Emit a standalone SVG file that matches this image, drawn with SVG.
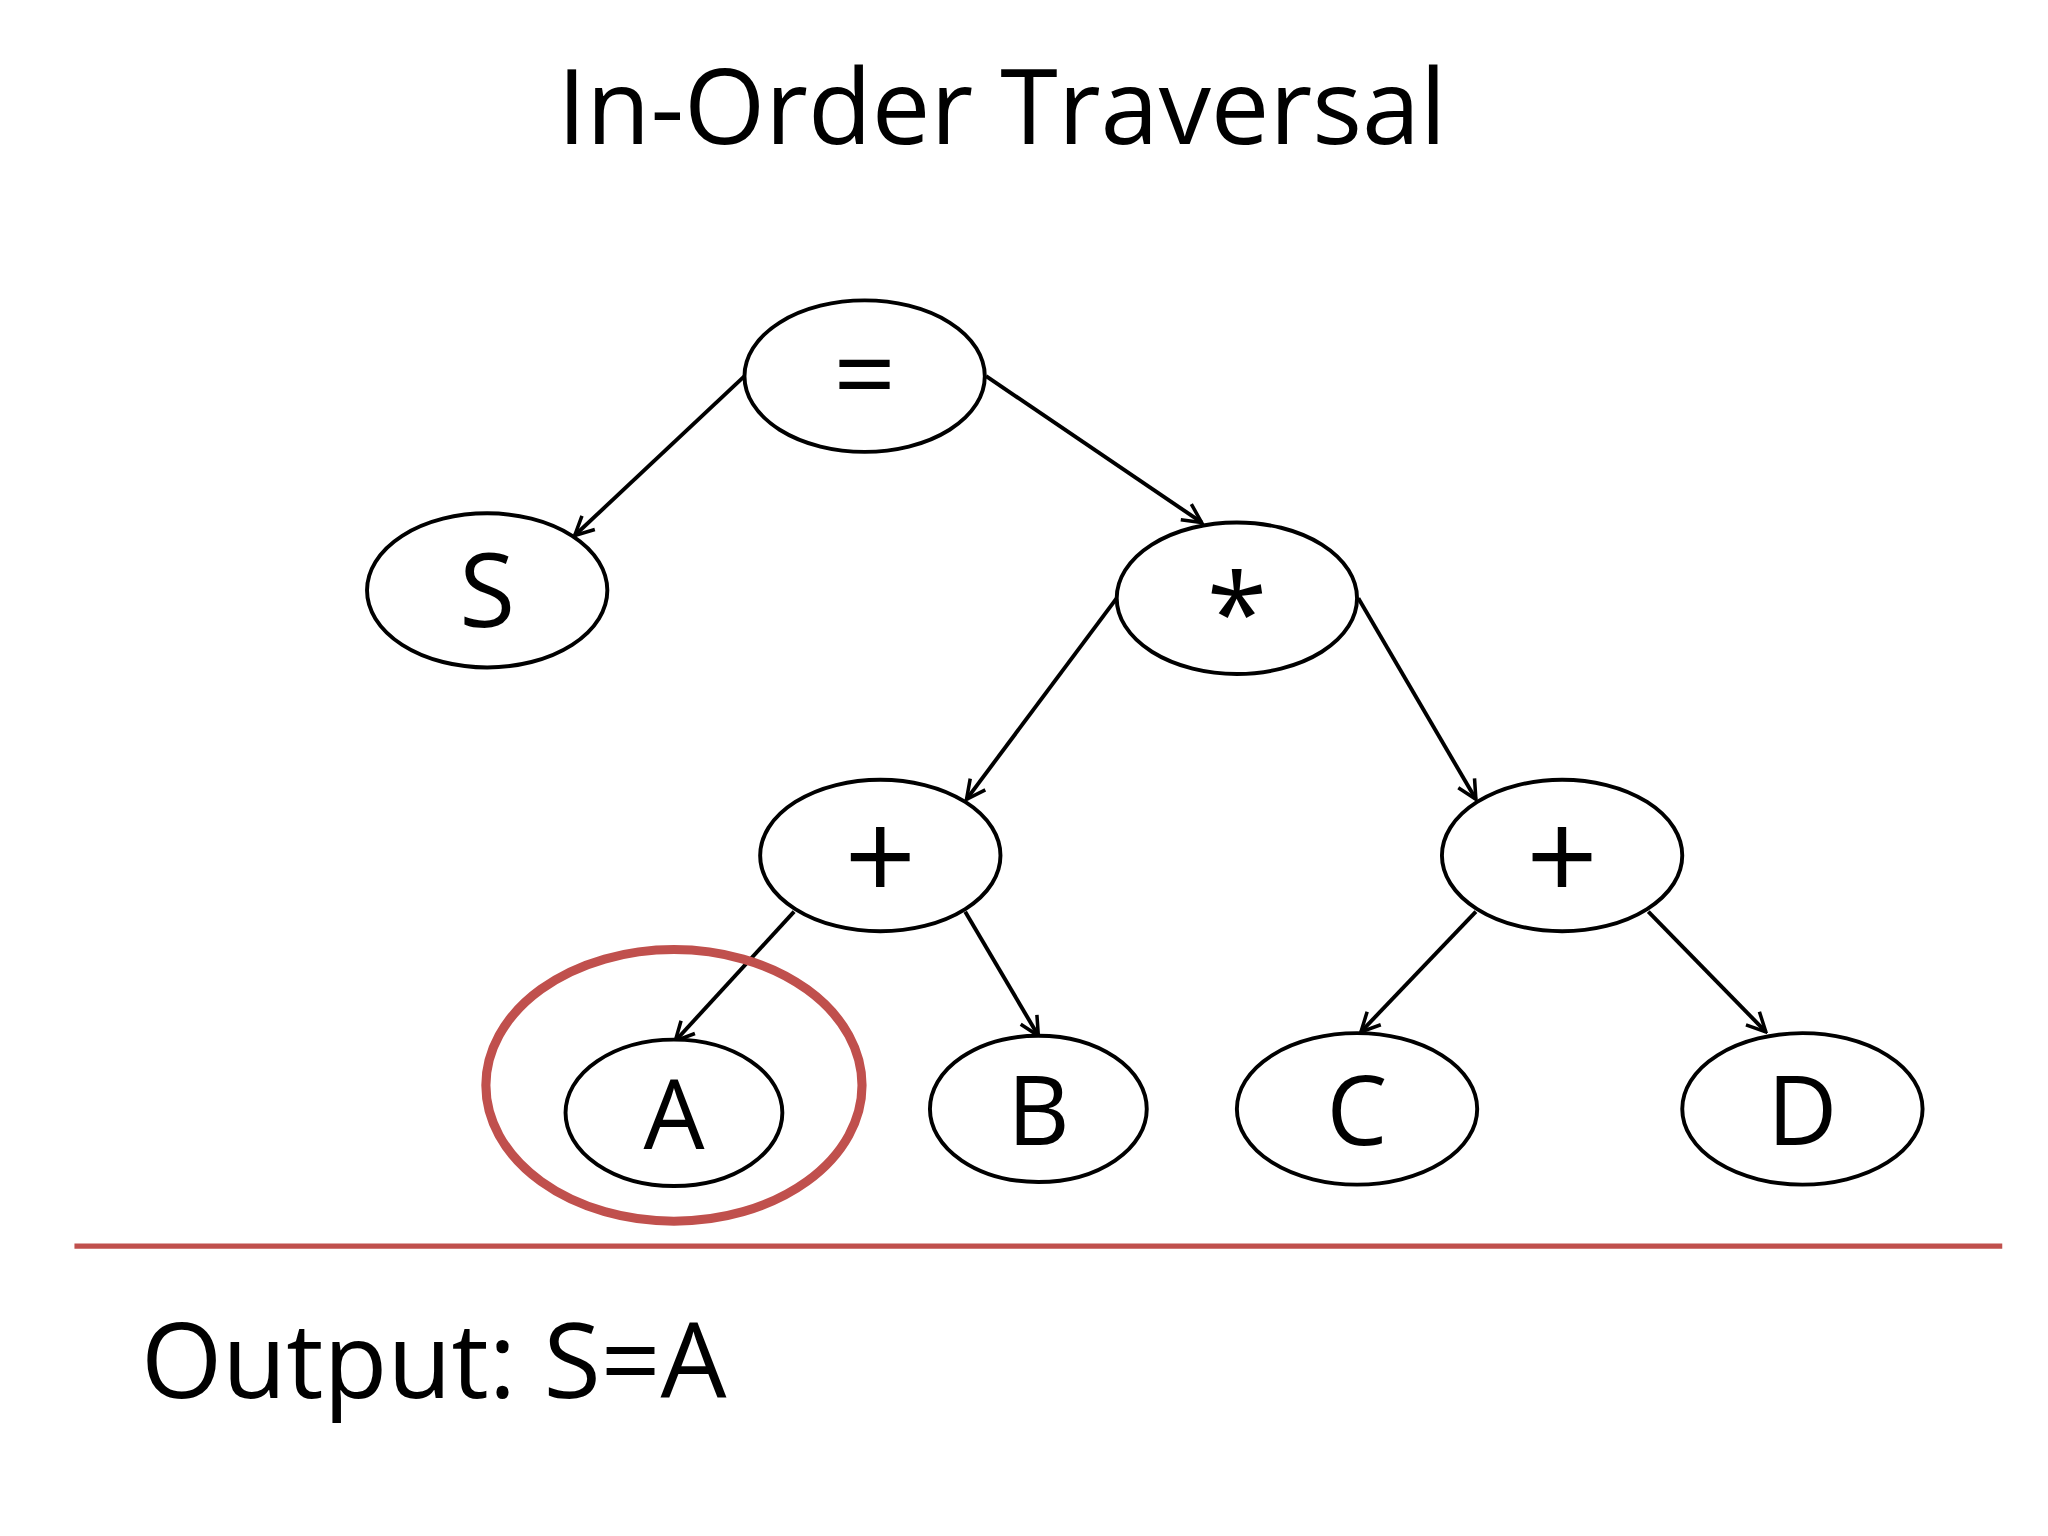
<svg xmlns="http://www.w3.org/2000/svg" width="2048" height="1536" viewBox="0 0 2048 1536">
<style>
.n{fill:#fff;stroke:#000;stroke-width:3}
.t{font-family:"Open Sans","Noto Sans",sans-serif;fill:#000;text-anchor:middle}
.e{stroke:#000;stroke-width:3;fill:none;marker-end:url(#ar)}
</style>
<defs><marker id="ar" viewBox="0 0 12 12" refX="11" refY="6" markerWidth="7" markerHeight="7" orient="auto" markerUnits="userSpaceOnUse"><polyline points="0,0 11,6 0,12" fill="none" stroke="#000" stroke-width="2"/></marker>
<marker id="arx" viewBox="0 0 20 20" refX="18" refY="10" markerWidth="18" markerHeight="18" orient="auto" markerUnits="userSpaceOnUse"><polyline points="2,2 18,10 2,18" fill="none" stroke="#000" stroke-width="3"/></marker></defs>
<rect width="2048" height="1536" fill="#fff"/>
<g transform="scale(1.3061)">
<text class="t" x="767" y="110" font-size="80">In-Order Traversal</text>
<g id="connectors" style="marker-end:url(#arx)">
<path class="e" style="marker-end:url(#arx)" d="M570,288 L440,410"/>
<path class="e" style="marker-end:url(#arx)" d="M755,288 L920,400"/>
<path class="e" style="marker-end:url(#arx)" d="M855,458 L740,612"/>
<path class="e" style="marker-end:url(#arx)" d="M1040,458 L1130,612"/>
<path class="e" style="marker-end:url(#arx)" d="M608,698 L517,797"/>
<path class="e" style="marker-end:url(#arx)" d="M739,698 L795,793"/>
<path class="e" style="marker-end:url(#arx)" d="M1130,698 L1042,790"/>
<path class="e" style="marker-end:url(#arx)" d="M1262,698 L1352,790"/>
</g>
<g id="eq"><ellipse class="n" cx="662" cy="288" rx="92" ry="58"/><text class="t" x="662" y="316" font-size="84">=</text></g>
<g id="S"><ellipse class="n" cx="373" cy="452" rx="92" ry="59"/><text class="t" x="373" y="480" font-size="78">S</text></g>
<g id="mul"><ellipse class="n" cx="947" cy="458" rx="92" ry="58"/><text class="t" x="947" y="500" font-size="84">*</text></g>
<g id="plusL"><ellipse class="n" cx="674" cy="655" rx="92" ry="58"/><text class="t" x="674" y="690" font-size="96">+</text></g>
<g id="plusR"><ellipse class="n" cx="1196" cy="655" rx="92" ry="58"/><text class="t" x="1196" y="690" font-size="96">+</text></g>
<g id="A"><ellipse class="n" cx="516" cy="852" rx="83" ry="56"/><text class="t" x="516" y="880" font-size="74">A</text></g>
<g id="B"><ellipse class="n" cx="795" cy="849" rx="83" ry="56"/><text class="t" x="795" y="877" font-size="74">B</text></g>
<g id="C"><ellipse class="n" cx="1039" cy="849" rx="92" ry="58"/><text class="t" x="1039" y="877" font-size="74">C</text></g>
<g id="D"><ellipse class="n" cx="1380" cy="849" rx="92" ry="58"/><text class="t" x="1380" y="877" font-size="74">D</text></g>
<ellipse cx="516" cy="831" rx="144" ry="104" fill="none" stroke="#c0504d" stroke-width="7"/>
<line x1="57" y1="954" x2="1533" y2="954" stroke="#c0504d" stroke-width="4"/>
<text x="108" y="1070" font-size="80" font-family="Open Sans, Noto Sans, sans-serif">Output: S=A</text>
</g>
</svg>
